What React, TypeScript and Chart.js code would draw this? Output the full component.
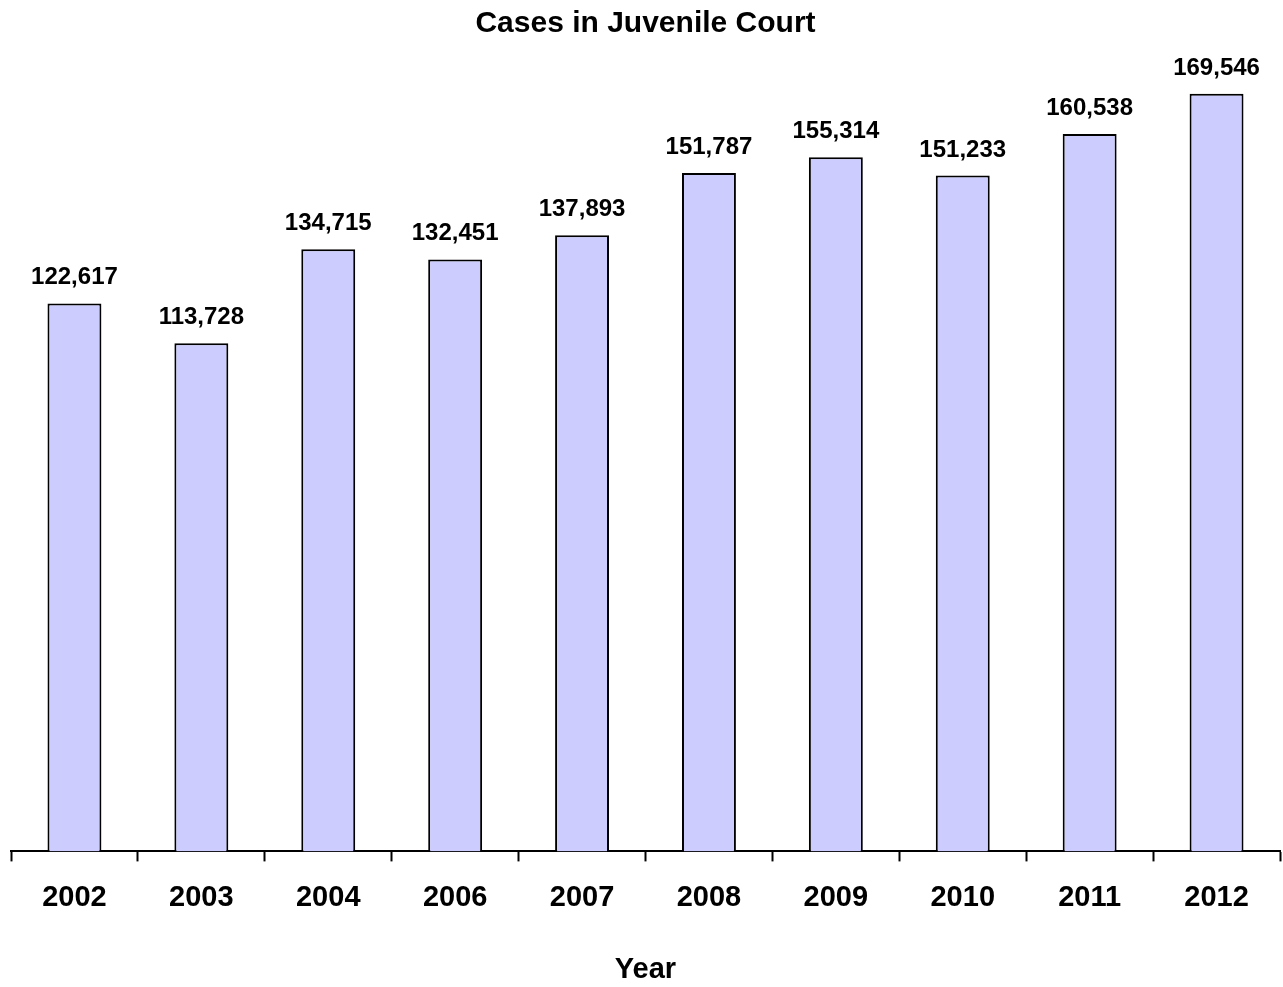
import React, { useEffect, useRef } from "react";
import { Chart, registerables } from "chart.js";

Chart.register(...registerables);

const categories = ["2002", "2003", "2004", "2006", "2007", "2008", "2009", "2010", "2011", "2012"];
const cases = [122617, 113728, 134715, 132451, 137893, 151787, 155314, 151233, 160538, 169546];
const titleText = "Cases in Juvenile Court";
const xTitle = "Year";

const FONT = "'Liberation Sans', Arial, sans-serif";

const valueLabels = {
  id: "valueLabels",
  afterDatasetsDraw(chart: any) {
    const ctx = chart.ctx;
    const meta = chart.getDatasetMeta(0);
    const data = chart.data.datasets[0].data as number[];
    ctx.save();
    ctx.font = `bold 24px ${FONT}`;
    ctx.fillStyle = "#000";
    ctx.textAlign = "center";
    ctx.textBaseline = "alphabetic";
    meta.data.forEach((bar: any, i: number) => {
      ctx.fillText(data[i].toLocaleString("en-US"), bar.x, bar.y - 19);
    });
    ctx.restore();
  },
};

export default function App() {
  const ref = useRef<HTMLCanvasElement>(null);
  useEffect(() => {
    if (!ref.current) return;
    const chart = new Chart(ref.current, {
      type: "bar",
      data: {
        labels: categories,
        datasets: [
          {
            data: cases,
            backgroundColor: "#CCCCFF",
            borderColor: "#000000",
            borderWidth: 2,
            barPercentage: 0.425,
            categoryPercentage: 1,
          },
        ],
      },
      options: {
        animation: false,
        responsive: true,
        maintainAspectRatio: false,
        layout: { padding: { left: 11, right: 3, top: 0, bottom: 0 } },
        plugins: {
          legend: { display: false },
          tooltip: { enabled: false },
          title: {
            display: true,
            text: titleText,
            color: "#000",
            font: { family: FONT, size: 30, weight: "bold" },
            padding: { top: 6, bottom: 5 },
          },
        },
        scales: {
          x: {
            grid: {
              display: true,
              offset: true,
              drawOnChartArea: false,
              drawTicks: true,
              tickLength: 10,
              tickWidth: 2,
              tickColor: "#000",
            },
            border: { display: true, color: "#000", width: 2 },
            ticks: {
              color: "#000",
              padding: 19,
              font: { family: FONT, size: 29, weight: "bold" },
            },
            title: {
              display: true,
              text: xTitle,
              color: "#000",
              font: { family: FONT, size: 29, weight: "bold" },
              padding: { top: 18, bottom: 0 },
            },
          },
          y: {
            display: false,
            min: 0,
            max: 180000,
          },
        },
      },
      plugins: [valueLabels],
    });
    return () => chart.destroy();
  }, []);
  return (
    <div style={{ position: "fixed", left: 0, top: 0, width: 1283, height: 987 }}>
      <canvas ref={ref} />
    </div>
  );
}
